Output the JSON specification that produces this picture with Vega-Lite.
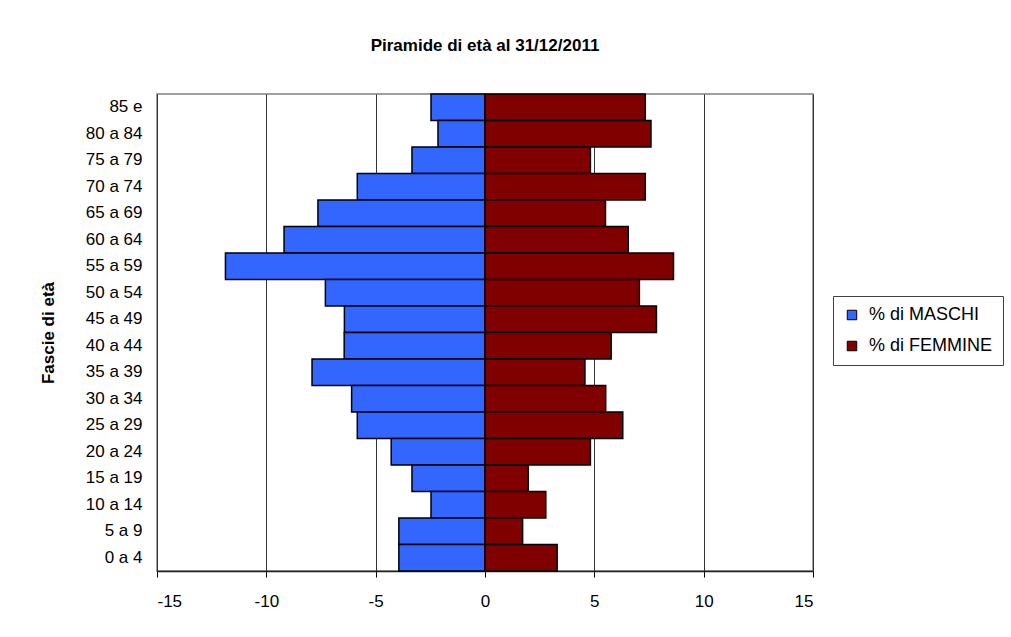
{
  "$schema": "https://vega.github.io/schema/vega-lite/v6.json",
  "autosize": "none",
  "width": 656,
  "height": 477,
  "padding": {"left": 157, "top": 94, "right": 198, "bottom": 66},
  "background": "white",
  "title": {
    "text": "Piramide di età al 31/12/2011",
    "font": "Liberation Sans",
    "fontSize": 17,
    "fontWeight": "bold",
    "color": "black",
    "anchor": "middle",
    "frame": "group",
    "offset": 38
  },
  "config": {
    "view": {"stroke": "#808080", "strokeWidth": 1.5},
    "font": "Liberation Sans"
  },
  "data": {
    "values": [
      {"eta": "85 e", "sesso": "% di MASCHI", "valore": -2.47},
      {"eta": "80 a 84", "sesso": "% di MASCHI", "valore": -2.15},
      {"eta": "75 a 79", "sesso": "% di MASCHI", "valore": -3.34},
      {"eta": "70 a 74", "sesso": "% di MASCHI", "valore": -5.84},
      {"eta": "65 a 69", "sesso": "% di MASCHI", "valore": -7.64},
      {"eta": "60 a 64", "sesso": "% di MASCHI", "valore": -9.19},
      {"eta": "55 a 59", "sesso": "% di MASCHI", "valore": -11.87},
      {"eta": "50 a 54", "sesso": "% di MASCHI", "valore": -7.3},
      {"eta": "45 a 49", "sesso": "% di MASCHI", "valore": -6.43},
      {"eta": "40 a 44", "sesso": "% di MASCHI", "valore": -6.44},
      {"eta": "35 a 39", "sesso": "% di MASCHI", "valore": -7.91},
      {"eta": "30 a 34", "sesso": "% di MASCHI", "valore": -6.1},
      {"eta": "25 a 29", "sesso": "% di MASCHI", "valore": -5.84},
      {"eta": "20 a 24", "sesso": "% di MASCHI", "valore": -4.29},
      {"eta": "15 a 19", "sesso": "% di MASCHI", "valore": -3.34},
      {"eta": "10 a 14", "sesso": "% di MASCHI", "valore": -2.47},
      {"eta": "5 a 9", "sesso": "% di MASCHI", "valore": -3.94},
      {"eta": "0 a 4", "sesso": "% di MASCHI", "valore": -3.94},
      {"eta": "85 e", "sesso": "% di FEMMINE", "valore": 7.33},
      {"eta": "80 a 84", "sesso": "% di FEMMINE", "valore": 7.59},
      {"eta": "75 a 79", "sesso": "% di FEMMINE", "valore": 4.82},
      {"eta": "70 a 74", "sesso": "% di FEMMINE", "valore": 7.33},
      {"eta": "65 a 69", "sesso": "% di FEMMINE", "valore": 5.51},
      {"eta": "60 a 64", "sesso": "% di FEMMINE", "valore": 6.55},
      {"eta": "55 a 59", "sesso": "% di FEMMINE", "valore": 8.62},
      {"eta": "50 a 54", "sesso": "% di FEMMINE", "valore": 7.06},
      {"eta": "45 a 49", "sesso": "% di FEMMINE", "valore": 7.84},
      {"eta": "40 a 44", "sesso": "% di FEMMINE", "valore": 5.77},
      {"eta": "35 a 39", "sesso": "% di FEMMINE", "valore": 4.57},
      {"eta": "30 a 34", "sesso": "% di FEMMINE", "valore": 5.52},
      {"eta": "25 a 29", "sesso": "% di FEMMINE", "valore": 6.3},
      {"eta": "20 a 24", "sesso": "% di FEMMINE", "valore": 4.82},
      {"eta": "15 a 19", "sesso": "% di FEMMINE", "valore": 1.98},
      {"eta": "10 a 14", "sesso": "% di FEMMINE", "valore": 2.78},
      {"eta": "5 a 9", "sesso": "% di FEMMINE", "valore": 1.72},
      {"eta": "0 a 4", "sesso": "% di FEMMINE", "valore": 3.3}
    ]
  },
  "mark": {"type": "bar", "stroke": "black", "strokeWidth": 1.5, "opacity": 1},
  "encoding": {
    "y": {
      "field": "eta",
      "type": "nominal",
      "sort": ["85 e", "80 a 84", "75 a 79", "70 a 74", "65 a 69", "60 a 64", "55 a 59", "50 a 54", "45 a 49", "40 a 44", "35 a 39", "30 a 34", "25 a 29", "20 a 24", "15 a 19", "10 a 14", "5 a 9", "0 a 4"],
      "scale": {"paddingInner": 0, "paddingOuter": 0},
      "axis": {
        "title": "Fascie di età",
        "titleFont": "Liberation Sans",
        "titleFontSize": 17,
        "titleFontWeight": "bold",
        "titleColor": "black",
        "titlePadding": 28,
        "labelFont": "Liberation Sans",
        "labelFontSize": 17,
        "labelColor": "black",
        "labelPadding": 15,
        "ticks": false,
        "domain": false
      }
    },
    "x": {
      "field": "valore",
      "type": "quantitative",
      "stack": null,
      "scale": {"domain": [-15, 15], "nice": false},
      "axis": {
        "title": null,
        "values": [-15, -10, -5, 0, 5, 10, 15],
        "labelExpr": "'' + datum.value",
        "labelFont": "Liberation Sans",
        "labelFontSize": 17,
        "labelColor": "black",
        "labelPadding": 16,
        "tickSize": 6,
        "tickColor": "black",
        "tickWidth": 1,
        "domain": true,
        "domainColor": "#222222",
        "domainWidth": 1.5,
        "grid": true,
        "gridColor": "#333333",
        "gridWidth": 1,
        "gridOpacity": 1
      }
    },
    "color": {
      "field": "sesso",
      "type": "nominal",
      "scale": {"domain": ["% di MASCHI", "% di FEMMINE"], "range": ["#3366FF", "#800000"]},
      "legend": {
        "title": null,
        "orient": "none",
        "legendX": 676,
        "legendY": 202,
        "symbolType": "square",
        "symbolSize": 90,
        "symbolStrokeColor": "black",
        "symbolStrokeWidth": 1,
        "labelFont": "Liberation Sans",
        "labelFontSize": 18,
        "labelColor": "black",
        "labelOffset": 8,
        "rowPadding": 13,
        "padding": 10,
        "strokeColor": "#404040",
        "fillColor": "white"
      }
    }
  }
}
